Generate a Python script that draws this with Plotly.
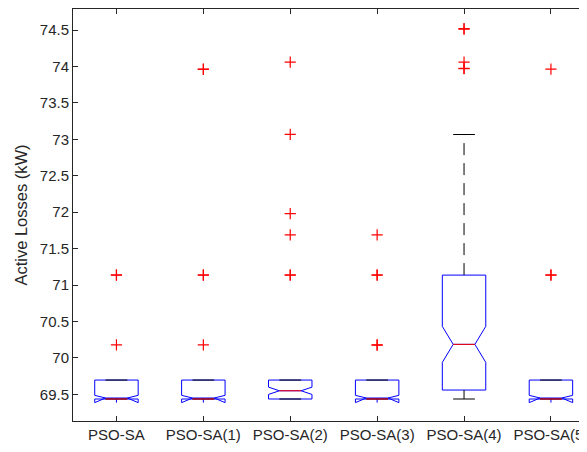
import plotly.graph_objects as go

# ---- data ----
categories = ["PSO-SA", "PSO-SA(1)", "PSO-SA(2)", "PSO-SA(3)", "PSO-SA(4)", "PSO-SA(5)"]
q1_vals = [69.436, 69.436, 69.436, 69.436, 69.559, 69.436]
median_vals = [69.436, 69.436, 69.549, 69.436, 70.186, 69.436]
q3_vals = [69.696, 69.696, 69.696, 69.696, 71.137, 69.696]
lower_whisker = [69.436, 69.436, 69.436, 69.436, 69.436, 69.436]
upper_whisker = [69.696, 69.696, 69.696, 69.696, 73.067, 69.696]
notch_half = [0.05, 0.05, 0.05, 0.05, 0.247, 0.05]
outliers = [
    [71.14, 71.135, 70.18],
    [73.96, 73.965, 71.14, 71.135, 70.18],
    [74.06, 73.07, 71.98, 71.69, 71.14, 71.135],
    [71.69, 71.14, 71.135, 70.18, 70.175],
    [74.52, 74.515, 74.06, 73.97, 73.975],
    [73.965, 71.14, 71.135],
]
y_ticks = [69.5, 70, 70.5, 71, 71.5, 72, 72.5, 73, 73.5, 74, 74.5]

BOX_W = 0.5
CAP_HALF = BOX_W / 4
MED_HALF = BOX_W / 4
TXT = "#262626"
FONT = "Liberation Sans, Arial, Helvetica, sans-serif"

pos = list(range(1, len(categories) + 1))

fig = go.Figure()

# whisker stems (dashed black)
wx, wy = [], []
for p, q1, q3, lw, uw in zip(pos, q1_vals, q3_vals, lower_whisker, upper_whisker):
    if uw > q3:
        wx += [p, p, None]; wy += [q3, uw, None]
    if lw < q1:
        wx += [p, p, None]; wy += [q1, lw, None]
fig.add_trace(go.Scatter(x=wx, y=wy, mode="lines",
                         line=dict(color="black", width=1, dash="12px,8px"),
                         hoverinfo="skip", showlegend=False))

# whisker caps (solid black)
cx, cy = [], []
for p, lw, uw in zip(pos, lower_whisker, upper_whisker):
    cx += [p - CAP_HALF, p + CAP_HALF, None, p - CAP_HALF, p + CAP_HALF, None]
    cy += [uw, uw, None, lw, lw, None]
fig.add_trace(go.Scatter(x=cx, y=cy, mode="lines",
                         line=dict(color="black", width=1),
                         hoverinfo="skip", showlegend=False))

# notched boxes (blue outline)
fig.add_trace(go.Box(
    x=pos, q1=q1_vals, median=median_vals, q3=q3_vals,
    lowerfence=q1_vals, upperfence=q3_vals,
    notched=True, notchspan=notch_half, notchwidth=0.25,
    width=BOX_W, whiskerwidth=0,
    line=dict(color="blue", width=1), fillcolor="rgba(0,0,0,0)",
    boxpoints=False, showlegend=False, hoverinfo="skip"))

# medians (red)
mx, my = [], []
for p, m in zip(pos, median_vals):
    mx += [p - MED_HALF, p + MED_HALF, None]
    my += [m, m, None]
fig.add_trace(go.Scatter(x=mx, y=my, mode="lines",
                         line=dict(color="red", width=1),
                         hoverinfo="skip", showlegend=False))

# outliers (red +)
ox, oy = [], []
for p, vals in zip(pos, outliers):
    for v in vals:
        ox.append(p); oy.append(v)
fig.add_trace(go.Scatter(x=ox, y=oy, mode="markers",
                         marker=dict(symbol="cross-thin", size=8,
                                     line=dict(color="red", width=1.2)),
                         hoverinfo="skip", showlegend=False))

# the page body has an 8px margin, so the figure is sized/offset to compensate
fig.update_layout(
    width=579, height=444,
    margin=dict(l=65, r=0, t=1, b=31),
    paper_bgcolor="white", plot_bgcolor="white",
    font=dict(family=FONT, size=15, color=TXT),
    showlegend=False,
)
fig.update_xaxes(
    range=[0.5, 6.415], tickvals=pos, ticktext=categories,
    ticks="inside", ticklen=5, tickcolor=TXT, tickwidth=1,
    showline=True, linecolor=TXT, linewidth=1, mirror="ticks",
    showgrid=False, zeroline=False, automargin=False,
    ticklabeloverflow="allow",
    tickfont=dict(family=FONT, size=15, color=TXT),
)
fig.update_yaxes(
    range=[69.134, 74.79], tickvals=y_ticks,
    ticks="inside", ticklen=5, tickcolor=TXT, tickwidth=1,
    showline=True, linecolor=TXT, linewidth=1, mirror=False,
    showgrid=False, zeroline=False, automargin=False,
    tickfont=dict(family=FONT, size=15, color=TXT),
    title=dict(text="Active Losses (kW)", standoff=8,
               font=dict(family=FONT, size=16.5, color=TXT)),
)

fig.write_html("out.html")
